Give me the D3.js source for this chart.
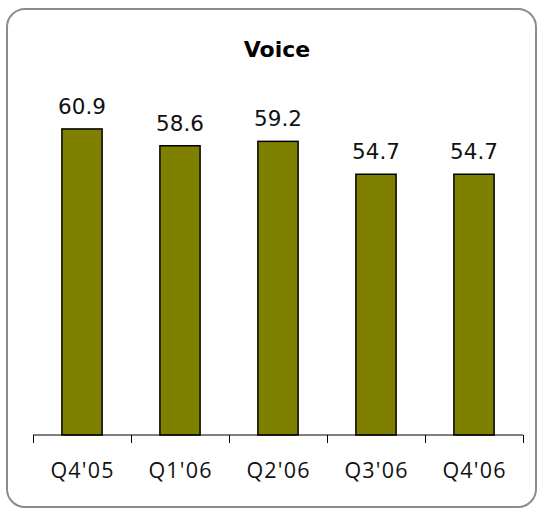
<!DOCTYPE html>
<html>
<head>
<meta charset="utf-8">
<script src="https://cdn.jsdelivr.net/npm/d3@7"></script>
<style>
  html, body { margin: 0; padding: 0; background: #fff; }
  svg { display: block; }
</style>
</head>
<body>
<svg id="chart" width="542" height="512"></svg>
<script>
const title = "Voice";
const categories = ["Q4'05", "Q1'06", "Q2'06", "Q3'06", "Q4'06"];
const values = [60.9, 58.6, 59.2, 54.7, 54.7];
const valueLabels = ["60.9", "58.6", "59.2", "54.7", "54.7"];

const svg = d3.select("#chart");

// outer rounded frame
svg.append("rect")
  .attr("x", 7).attr("y", 9)
  .attr("width", 529).attr("height", 498)
  .attr("rx", 18).attr("ry", 18)
  .attr("fill", "#fff")
  .attr("stroke", "#8c8c8c")
  .attr("stroke-width", 2);

const x = d3.scaleBand()
  .domain(categories)
  .range([33, 523])
  .paddingInner(0.59)
  .paddingOuter(0.295);

const y = d3.scaleLinear()
  .domain([19, 65])
  .range([435, 99]);

// title
svg.append("text")
  .attr("x", 277).attr("y", 57)
  .attr("text-anchor", "middle")
  .attr("font-family", "DejaVu Sans, Verdana, sans-serif")
  .attr("font-weight", "bold")
  .attr("font-size", 22)
  .attr("fill", "#000")
  .text(title);

// bars
svg.selectAll("rect.bar")
  .data(values)
  .join("rect")
  .attr("class", "bar")
  .attr("x", (d, i) => x(categories[i]))
  .attr("y", d => y(d))
  .attr("width", x.bandwidth())
  .attr("height", d => y.range()[0] - y(d))
  .attr("fill", "#808000")
  .attr("stroke", "#000")
  .attr("stroke-width", 1.5);

// value labels
svg.selectAll("text.val")
  .data(values)
  .join("text")
  .attr("class", "val")
  .attr("x", (d, i) => x(categories[i]) + x.bandwidth() / 2)
  .attr("y", d => y(d) - 15)
  .attr("text-anchor", "middle")
  .attr("font-family", "DejaVu Sans, Verdana, sans-serif")
  .attr("font-size", 21.5)
  .attr("fill", "#111")
  .text((d, i) => valueLabels[i]);

// x axis
const gx = svg.append("g")
  .attr("transform", `translate(0,${y.range()[0]})`)
  .call(d3.axisBottom(x).tickSize(0).tickFormat(""));
gx.select(".domain").remove();
gx.append("line")
  .attr("x1", 33).attr("x2", 523)
  .attr("y1", 0).attr("y2", 0)
  .attr("stroke", "#000").attr("stroke-width", 1);

// boundary ticks between categories
const step = x.step();
const tickXs = d3.range(categories.length + 1).map(i => x.range()[0] + i * step);
gx.selectAll("line.btick")
  .data(tickXs)
  .join("line")
  .attr("class", "btick")
  .attr("x1", d => Math.round(d) + 0.5).attr("x2", d => Math.round(d) + 0.5)
  .attr("y1", 0).attr("y2", 8)
  .attr("stroke", "#000").attr("stroke-width", 1);

// category labels
svg.selectAll("text.cat")
  .data(categories)
  .join("text")
  .attr("class", "cat")
  .attr("x", d => x(d) + x.bandwidth() / 2 + 0.6)
  .attr("y", 478)
  .attr("text-anchor", "middle")
  .attr("font-family", "Open Sans, sans-serif")
  .attr("font-size", 21.5)
  .attr("letter-spacing", 1.2)
  .attr("fill", "#111")
  .text(d => d);
</script>
</body>
</html>
